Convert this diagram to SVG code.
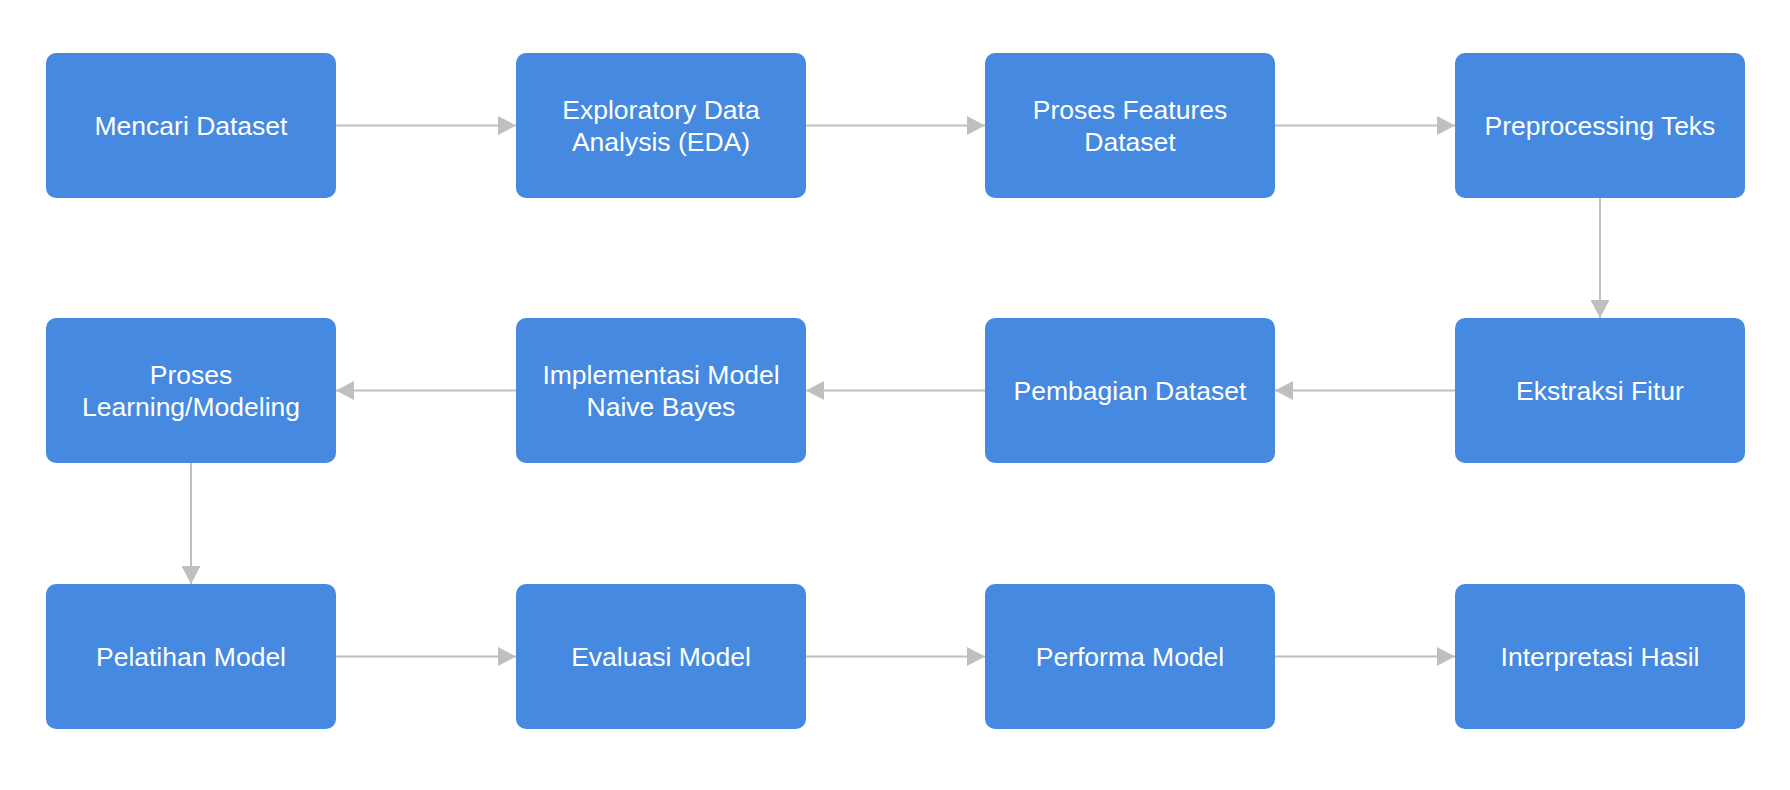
<svg xmlns="http://www.w3.org/2000/svg" width="1790" height="790" viewBox="0 0 1790 790">
<style>
.box{fill:#4589e0;}
.lbl{font-family:"Liberation Sans",Arial,sans-serif;font-size:26.5px;fill:#ffffff;text-anchor:middle;}
.edge{stroke:#bfbfbf;stroke-width:2;fill:none;marker-end:url(#ah);}
</style>
<defs>
<marker id="ah" markerUnits="userSpaceOnUse" markerWidth="18" markerHeight="19" refX="18" refY="9.5" orient="auto">
<path d="M0,0 L18,9.5 L0,19 Z" fill="#bfbfbf"/>
</marker>
</defs>
<rect width="1790" height="790" fill="#ffffff"/>
<g id="connectors">
<line class="edge" x1="336" y1="125.5" x2="516" y2="125.5"/>
<line class="edge" x1="806" y1="125.5" x2="985" y2="125.5"/>
<line class="edge" x1="1275" y1="125.5" x2="1455" y2="125.5"/>
<line class="edge" x1="1600" y1="198" x2="1600" y2="318"/>
<line class="edge" x1="1455" y1="390.5" x2="1275" y2="390.5"/>
<line class="edge" x1="985" y1="390.5" x2="806" y2="390.5"/>
<line class="edge" x1="516" y1="390.5" x2="336" y2="390.5"/>
<line class="edge" x1="191" y1="463" x2="191" y2="584"/>
<line class="edge" x1="336" y1="656.5" x2="516" y2="656.5"/>
<line class="edge" x1="806" y1="656.5" x2="985" y2="656.5"/>
<line class="edge" x1="1275" y1="656.5" x2="1455" y2="656.5"/>
</g>
<g id="n1"><rect class="box" x="46" y="53" width="290" height="145" rx="10"/><text class="lbl" x="191" y="135">Mencari Dataset</text></g>
<g id="n2"><rect class="box" x="516" y="53" width="290" height="145" rx="10"/><text class="lbl" x="661" y="119">Exploratory Data</text><text class="lbl" x="661" y="151">Analysis (EDA)</text></g>
<g id="n3"><rect class="box" x="985" y="53" width="290" height="145" rx="10"/><text class="lbl" x="1130" y="119">Proses Features</text><text class="lbl" x="1130" y="151">Dataset</text></g>
<g id="n4"><rect class="box" x="1455" y="53" width="290" height="145" rx="10"/><text class="lbl" x="1600" y="135">Preprocessing Teks</text></g>
<g id="n5"><rect class="box" x="1455" y="318" width="290" height="145" rx="10"/><text class="lbl" x="1600" y="400">Ekstraksi Fitur</text></g>
<g id="n6"><rect class="box" x="985" y="318" width="290" height="145" rx="10"/><text class="lbl" x="1130" y="400">Pembagian Dataset</text></g>
<g id="n7"><rect class="box" x="516" y="318" width="290" height="145" rx="10"/><text class="lbl" x="661" y="384">Implementasi Model</text><text class="lbl" x="661" y="416">Naive Bayes</text></g>
<g id="n8"><rect class="box" x="46" y="318" width="290" height="145" rx="10"/><text class="lbl" x="191" y="384">Proses</text><text class="lbl" x="191" y="416">Learning/Modeling</text></g>
<g id="n9"><rect class="box" x="46" y="584" width="290" height="145" rx="10"/><text class="lbl" x="191" y="666">Pelatihan Model</text></g>
<g id="n10"><rect class="box" x="516" y="584" width="290" height="145" rx="10"/><text class="lbl" x="661" y="666">Evaluasi Model</text></g>
<g id="n11"><rect class="box" x="985" y="584" width="290" height="145" rx="10"/><text class="lbl" x="1130" y="666">Performa Model</text></g>
<g id="n12"><rect class="box" x="1455" y="584" width="290" height="145" rx="10"/><text class="lbl" x="1600" y="666">Interpretasi Hasil</text></g>
</svg>
